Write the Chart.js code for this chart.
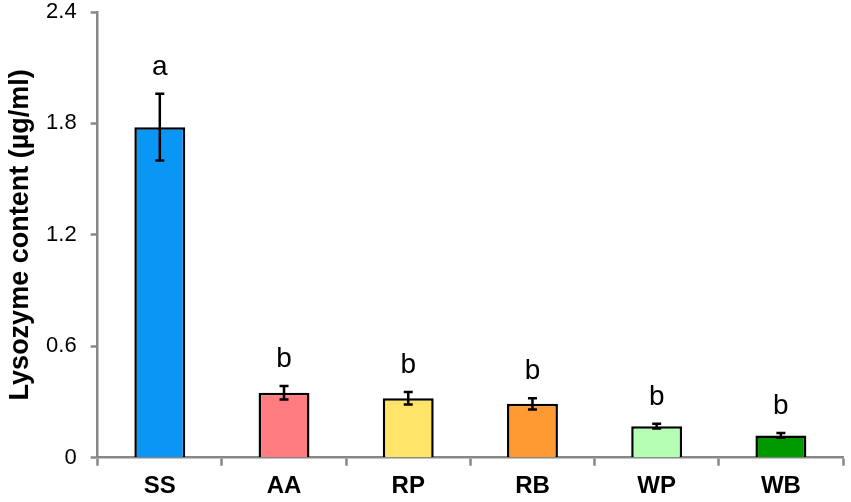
<!DOCTYPE html>
<html>
<head>
<meta charset="utf-8">
<script src="https://cdn.jsdelivr.net/npm/chart.js@4/dist/chart.umd.min.js"></script>
<style>
  html, body { margin: 0; padding: 0; background: #fff; }
  #wrap { width: 851px; height: 502px; position: relative; }
</style>
</head>
<body>
<div id="wrap"><canvas id="c"></canvas></div>
<script>
const categories = ["SS", "AA", "RP", "RB", "WP", "WB"];
const lysozyme = [1.78, 0.35, 0.32, 0.29, 0.17, 0.12];
const errors = [0.18, 0.036, 0.034, 0.03, 0.013, 0.013];
const letters = ["a", "b", "b", "b", "b", "b"];
const yTicks = [0, 0.6, 1.2, 1.8, 2.4];
const barColors = ["#0A96F5", "#FF7C80", "#FFE469", "#FF9A33", "#B4FFB4", "#009A00"];

const AXIS = "#878787";
const FONT = "'Liberation Sans', Arial, sans-serif";

const errorBarPlugin = {
  id: "errorBars",
  afterDatasetsDraw(chart) {
    const ctx = chart.ctx;
    const meta = chart.getDatasetMeta(0);
    const y = chart.scales.y;
    ctx.save();
    meta.data.forEach((bar, i) => {
      const v = lysozyme[i], e = errors[i];
      const top = y.getPixelForValue(v + e);
      const bot = y.getPixelForValue(v - e);
      const x = bar.x;
      ctx.strokeStyle = "#000";
      ctx.lineWidth = 2.5;
      ctx.beginPath();
      ctx.moveTo(x, top); ctx.lineTo(x, bot);
      ctx.moveTo(x - 4.5, top); ctx.lineTo(x + 4.5, top);
      ctx.moveTo(x - 4.5, bot); ctx.lineTo(x + 4.5, bot);
      ctx.stroke();
      ctx.fillStyle = "#000";
      ctx.font = "28px " + FONT;
      ctx.textAlign = "center";
      ctx.textBaseline = "alphabetic";
      ctx.fillText(letters[i], x, top - 19);
    });
    ctx.restore();
  }
};

new Chart(document.getElementById("c"), {
  type: "bar",
  data: {
    labels: categories,
    datasets: [{
      data: lysozyme,
      backgroundColor: barColors,
      borderColor: "#000",
      borderWidth: 2.5,
      borderSkipped: "bottom",
      categoryPercentage: 1.0,
      barPercentage: 0.41
    }]
  },
  options: {
    responsive: true,
    maintainAspectRatio: false,
    animation: false,
    layout: { padding: { left: 0, right: 8, top: 12, bottom: 0 } },
    plugins: { legend: { display: false }, tooltip: { enabled: false } },
    scales: {
      x: {
        offset: true,
        grid: { offset: true, drawOnChartArea: false, drawTicks: true, tickLength: 8, tickColor: AXIS, tickWidth: 2.5 },
        border: { color: AXIS, width: 2.5 },
        ticks: {
          color: "#000",
          padding: 6,
          font: { family: FONT, size: 24, weight: "bold" }
        },
        afterFit(s) { s.height = 44.3; s.paddingLeft = 0; s.paddingRight = 0; }
      },
      y: {
        min: 0,
        max: 2.4,
        afterBuildTicks(s) { s.ticks = yTicks.map(v => ({ value: v })); },
        grid: { drawOnChartArea: false, drawTicks: true, tickLength: 7, tickColor: AXIS, tickWidth: 2.5 },
        border: { color: AXIS, width: 2.5 },
        ticks: {
          color: "#000",
          padding: 14,
          font: { family: FONT, size: 22 },
          callback: (v) => String(v)
        },
        title: {
          display: true,
          text: "Lysozyme content (µg/ml)",
          color: "#000",
          padding: { top: 4, bottom: 0 },
          font: { family: FONT, size: 27, weight: "bold" }
        },
        afterFit(s) { s.width = 97.7; s.paddingTop = 0; s.paddingBottom = 0; }
      }
    }
  },
  plugins: [errorBarPlugin]
});
</script>
</body>
</html>
